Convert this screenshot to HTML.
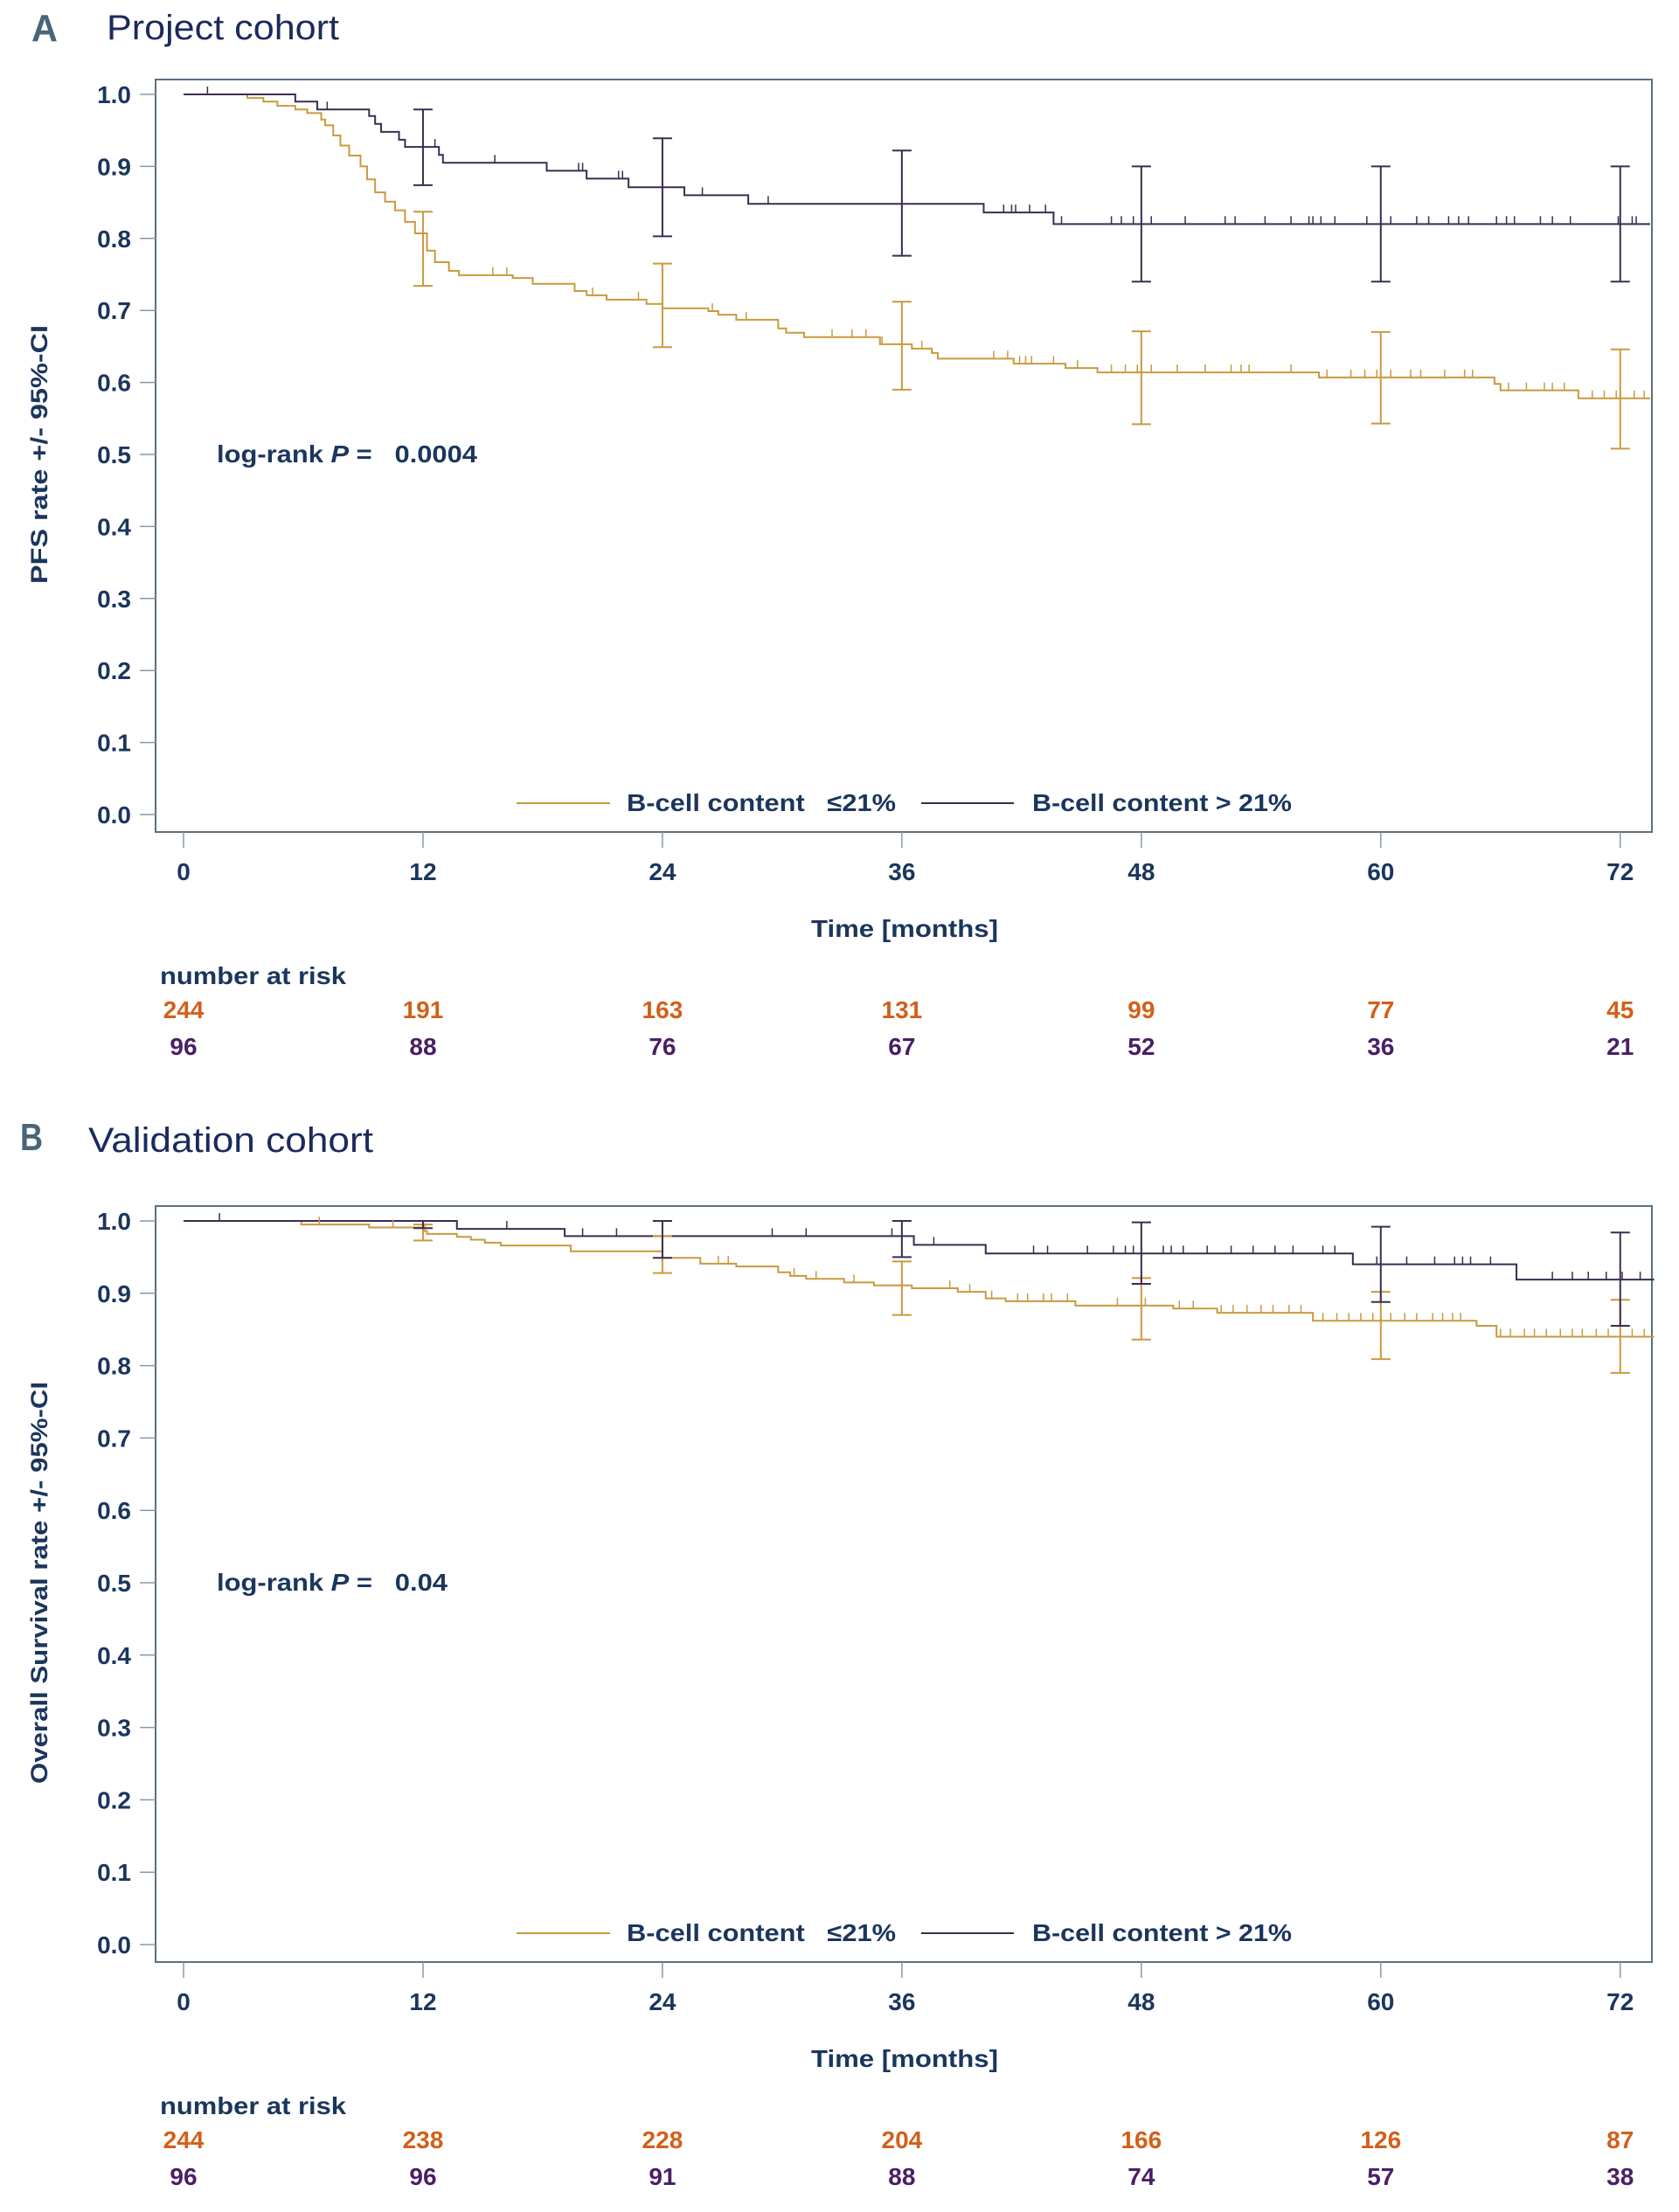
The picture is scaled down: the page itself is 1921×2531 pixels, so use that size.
<!DOCTYPE html>
<html><head><meta charset="utf-8"><style>
html,body{margin:0;padding:0;background:#fff;}
svg{display:block;font-family:"Liberation Sans",sans-serif;}
.t{fill:#1b365d;font-weight:bold;font-size:28px;white-space:pre;}
</style></head><body>
<svg id="chart" width="1921" height="2531" viewBox="0 0 1921 2531" xmlns="http://www.w3.org/2000/svg">
<g>
<text x="36" y="47" font-size="44" font-weight="bold" fill="#4a6478" textLength="30" lengthAdjust="spacingAndGlyphs">A</text>
<text x="122" y="45" font-size="40" fill="#1c2a5c" textLength="266" lengthAdjust="spacingAndGlyphs">Project cohort</text>
</g>
<g>
<text x="23" y="1316" font-size="44" font-weight="bold" fill="#4a6478" textLength="26" lengthAdjust="spacingAndGlyphs">B</text>
<text x="101" y="1318" font-size="40" fill="#1c2a5c" textLength="326" lengthAdjust="spacingAndGlyphs">Validation cohort</text>
</g>
<g id="pa"></g>
<g id="pb"></g>
</svg>
<script>
// ---- shared axis data ----
const xTicks = [0, 12, 24, 36, 48, 60, 72];
const yTicks = [0.0, 0.1, 0.2, 0.3, 0.4, 0.5, 0.6, 0.7, 0.8, 0.9, 1.0];
// ---- Panel A (PFS) ----
const aOrangeT = [0, 3.2, 4.0, 4.7, 5.6, 6.2, 6.9, 7.1, 7.5, 7.86, 8.3, 8.87, 9.2, 9.6, 10.1, 10.6, 11.1, 11.6, 12.2, 12.6, 13.3, 13.8, 16.5, 17.5, 19.6, 20.2, 21.2, 23.2, 24.0, 26.3, 26.8, 27.7, 29.8, 30.2, 31.1, 34.9, 36.5, 37.5, 37.8, 41.6, 44.2, 45.8, 56.9, 65.7, 66.0, 69.9];
const aOrangeS = [1.0, 0.995, 0.990, 0.984, 0.979, 0.974, 0.965, 0.957, 0.943, 0.929, 0.915, 0.900, 0.882, 0.864, 0.851, 0.839, 0.823, 0.807, 0.783, 0.767, 0.755, 0.749, 0.745, 0.737, 0.727, 0.721, 0.715, 0.709, 0.703, 0.699, 0.694, 0.687, 0.675, 0.669, 0.663, 0.653, 0.647, 0.641, 0.633, 0.626, 0.620, 0.614, 0.607, 0.598, 0.589, 0.578];
const aPurpleT = [0, 5.6, 6.7, 9.3, 9.6, 9.9, 10.8, 11.1, 12.8, 13.0, 18.2, 20.2, 22.3, 25.1, 28.3, 40.1, 43.6];
const aPurpleS = [1.0, 0.990, 0.979, 0.970, 0.959, 0.948, 0.937, 0.927, 0.916, 0.905, 0.894, 0.883, 0.871, 0.860, 0.848, 0.836, 0.820];
const aOrangeCIlo = [0.734, 0.649, 0.590, 0.542, 0.543, 0.508];
const aOrangeCIhi = [0.837, 0.765, 0.712, 0.671, 0.670, 0.646];
const aPurpleCIlo = [0.874, 0.803, 0.776, 0.740, 0.740, 0.740];
const aPurpleCIhi = [0.979, 0.939, 0.922, 0.900, 0.900, 0.900];
const aOrangeCens = [15.5, 16.2, 20.5, 22.8, 26.5, 28.2, 32.5, 33.5, 34.2, 35.0, 37.0, 40.6, 41.3, 41.9, 42.2, 42.5, 43.6, 44.8, 46.5, 47.2, 47.8, 48.5, 49.8, 51.2, 52.5, 53.0, 53.4, 55.5, 57.3, 58.5, 59.2, 59.8, 60.5, 61.5, 62.0, 63.2, 64.2, 64.6, 66.4, 67.3, 68.2, 68.6, 69.2, 70.6, 71.2, 71.8, 72.7, 73.2];
const aPurpleCens = [1.2, 7.2, 12.6, 15.6, 19.8, 20.0, 21.8, 22.0, 26.0, 29.3, 41.1, 41.5, 41.7, 42.4, 43.2, 44.0, 46.5, 47.0, 47.6, 48.5, 50.2, 52.2, 52.7, 54.2, 55.5, 56.4, 56.6, 57.0, 57.7, 59.3, 60.5, 61.8, 62.4, 63.4, 63.9, 64.4, 65.8, 66.3, 66.7, 68.0, 68.6, 69.5, 71.9, 72.6, 72.8];
const aRiskOrange = [244, 191, 163, 131, 99, 77, 45];
const aRiskPurple = [96, 88, 76, 67, 52, 36, 21];
// ---- Panel B (OS) ----
const bOrangeT = [0, 5.9, 9.3, 12.0, 12.2, 13.7, 14.4, 15.1, 15.9, 19.4, 24.0, 25.9, 27.7, 29.8, 30.4, 31.2, 33.1, 34.6, 36.5, 38.8, 40.2, 41.2, 44.7, 49.6, 51.8, 56.6, 64.8, 65.8];
const bOrangeS = [1.0, 0.995, 0.991, 0.986, 0.982, 0.978, 0.974, 0.970, 0.966, 0.958, 0.949, 0.941, 0.937, 0.929, 0.924, 0.920, 0.915, 0.911, 0.907, 0.902, 0.893, 0.889, 0.883, 0.879, 0.873, 0.862, 0.855, 0.840];
const bPurpleT = [0, 13.7, 19.1, 36.6, 40.2, 58.6, 66.8];
const bPurpleS = [1.0, 0.989, 0.979, 0.967, 0.955, 0.940, 0.919];
const bOrangeCIlo = [0.973, 0.928, 0.870, 0.836, 0.809, 0.790];
const bOrangeCIhi = [0.995, 0.979, 0.944, 0.921, 0.902, 0.891];
const bPurpleCIlo = [0.990, 0.949, 0.950, 0.913, 0.888, 0.855];
const bPurpleCIhi = [1.0, 1.0, 1.0, 0.998, 0.992, 0.984];
const bOrangeCens = [6.8, 10.5, 12.1, 26.8, 27.3, 30.6, 31.7, 33.6, 36.0, 38.4, 39.4, 40.5, 41.8, 42.3, 43.1, 43.5, 44.3, 46.8, 48.2, 49.9, 50.6, 52.0, 52.6, 53.3, 54.0, 54.6, 55.4, 56.0, 57.1, 57.8, 58.4, 59.0, 59.6, 60.5, 61.2, 61.8, 62.6, 63.1, 63.6, 64.0, 66.0, 66.5, 67.2, 67.7, 68.3, 69.0, 69.6, 70.1, 70.8, 71.4, 72.0, 72.6, 73.2];
const bPurpleCens = [1.8, 16.2, 20.0, 21.7, 29.5, 31.2, 35.5, 37.6, 42.6, 43.3, 45.3, 46.6, 47.2, 47.6, 49.1, 49.5, 50.1, 51.3, 52.5, 53.6, 54.7, 55.6, 57.1, 57.7, 59.8, 61.3, 62.7, 63.7, 64.1, 64.5, 65.5, 68.6, 69.6, 70.4, 71.3, 72.1, 73.0];
const bRiskOrange = [244, 238, 228, 204, 166, 126, 87];
const bRiskPurple = [96, 96, 91, 88, 74, 57, 38];

const NS = 'http://www.w3.org/2000/svg';
const ORANGE = '#c99a3f', PURPLE = '#3b2c52';
const X0 = 210, PXM = 22.83, FL = 178, FR = 1890;
function xs(m){ return X0 + m * PXM; }
function mk(parent, tag, attrs, txt){
  const e = document.createElementNS(NS, tag);
  for (const k in attrs) e.setAttribute(k, attrs[k]);
  if (txt !== undefined) e.textContent = txt;
  parent.appendChild(e); return e;
}
function stepAt(T, S, m){ let v = S[0]; for (let i=0;i<T.length;i++){ if (T[i] <= m) v = S[i]; } return v; }

function panel(gid, y1, y0, P){
  const g = document.getElementById(gid);
  const ys = v => y0 - v * (y0 - y1);
  const top = y1 - 17, bot = y0 + 20;
  const frame = mk(g, 'rect', {x: FL, y: top, width: FR - FL, height: bot - top, fill: 'none', stroke: '#5d6f80', 'stroke-width': 2});
  
  
  yTicks.forEach(v => {
    const l = mk(g, 'line', {x1: 160, x2: FL, y1: ys(v), y2: ys(v), stroke: '#8a98a5', 'stroke-width': 1.5});
    
    
    const t = mk(g, 'text', {x: 150, y: ys(v) + 10, 'text-anchor': 'end', class: 't'}, v.toFixed(1));
    
    
  });
  xTicks.forEach((m, i) => {
    const l = mk(g, 'line', {x1: xs(m), x2: xs(m), y1: bot, y2: bot + 18, stroke: '#8a98a5', 'stroke-width': 1.5});
    
    
    const t = mk(g, 'text', {x: xs(m), y: bot + 55, 'text-anchor': 'middle', class: 't'}, String(m));
    
    
    const r1 = mk(g, 'text', {x: xs(m), y: bot + 213, 'text-anchor': 'middle', class: 't', style: 'fill:#d2601a'}, String(P.riskO[i]));
    
    
    const r2 = mk(g, 'text', {x: xs(m), y: bot + 255, 'text-anchor': 'middle', class: 't', style: 'fill:#4a1f66'}, String(P.riskP[i]));
    
    
  });
  const xt = mk(g, 'text', {x: 1035, y: bot + 120, 'text-anchor': 'middle', class: 't', textLength: 214, lengthAdjust: 'spacingAndGlyphs'}, 'Time [months]');
  
  
  const nr = mk(g, 'text', {x: 183, y: bot + 174, class: 't', textLength: 213, lengthAdjust: 'spacingAndGlyphs'}, 'number at risk');
  
  
  const cy = (y1 + y0) / 2;
  const yt = mk(g, 'text', {x: 0, y: 0, 'text-anchor': 'middle', class: 't', transform: 'translate(54,' + cy + ') rotate(-90)', textLength: P.ytLen, lengthAdjust: 'spacingAndGlyphs', style: 'font-size:27px'}, P.ytitle);
  
  
  const lr = mk(g, 'text', {x: 248, y: ys(0.5) + 9, class: 't', textLength: P.lrLen, lengthAdjust: 'spacingAndGlyphs'});
  
  
  mk(lr, 'tspan', {}, 'log-rank ');
  mk(lr, 'tspan', {'font-style': 'italic'}, 'P');
  mk(lr, 'tspan', {}, ' =   ' + P.p);
  function curve(T, S, color, name){
    let d = 'M' + xs(T[0]) + ',' + ys(S[0]);
    for (let i = 1; i < T.length; i++) d += 'H' + xs(T[i]) + 'V' + ys(S[i]);
    d += 'H' + xs(P.end);
    const p = mk(g, 'path', {d: d, fill: 'none', stroke: color, 'stroke-width': 2});
    
    
  }
  function cens(T, S, C, color, name){
    C.forEach(m => {
      const y = ys(stepAt(T, S, m));
      const l = mk(g, 'line', {x1: xs(m), x2: xs(m), y1: y, y2: y - 9, stroke: color, 'stroke-width': 1.5});
      
      
    });
  }
  function ci(lo, hi, color, name){
    lo.forEach((v, i) => {
      const x = xs(xTicks[i + 1]);
      const p = mk(g, 'path', {d: 'M' + x + ',' + ys(hi[i]) + 'V' + ys(v) + 'M' + (x - 11) + ',' + ys(hi[i]) + 'H' + (x + 11) + 'M' + (x - 11) + ',' + ys(v) + 'H' + (x + 11), fill: 'none', stroke: color, 'stroke-width': 2});
      
      
    });
  }
  curve(P.oT, P.oS, ORANGE, 'curve-bcell-low');
  curve(P.pT, P.pS, PURPLE, 'curve-bcell-high');
  cens(P.oT, P.oS, P.oC, ORANGE, 'censor-mark-low');
  cens(P.pT, P.pS, P.pC, PURPLE, 'censor-mark-high');
  ci(P.oLo, P.oHi, ORANGE, 'ci-bar-low');
  ci(P.pLo, P.pHi, PURPLE, 'ci-bar-high');
  const ly = ys(0) - 13;
  const lg = mk(g, 'g', {});
  
  
  const l1 = mk(lg, 'line', {x1: 591, x2: 698, y1: ly, y2: ly, stroke: ORANGE, 'stroke-width': 2});
  
  
  const t1 = mk(lg, 'text', {x: 717, y: ly + 9, class: 't', textLength: 308, lengthAdjust: 'spacingAndGlyphs'}, 'B-cell content   \u226421%');
  
  
  const l2 = mk(lg, 'line', {x1: 1054, x2: 1160, y1: ly, y2: ly, stroke: PURPLE, 'stroke-width': 2});
  
  
  const t2 = mk(lg, 'text', {x: 1181, y: ly + 9, class: 't', textLength: 297, lengthAdjust: 'spacingAndGlyphs'}, 'B-cell content > 21%');
  
  
}

panel('pa', 108, 932, {oT: aOrangeT, oS: aOrangeS, pT: aPurpleT, pS: aPurpleS, oC: aOrangeCens, pC: aPurpleCens,
  oLo: aOrangeCIlo, oHi: aOrangeCIhi, pLo: aPurpleCIlo, pHi: aPurpleCIhi, riskO: aRiskOrange, riskP: aRiskPurple,
  ytitle: 'PFS rate +/- 95%-CI', ytLen: 296, p: '0.0004', lrLen: 298, end: 73.5});
panel('pb', 1397, 2225, {oT: bOrangeT, oS: bOrangeS, pT: bPurpleT, pS: bPurpleS, oC: bOrangeCens, pC: bPurpleCens,
  oLo: bOrangeCIlo, oHi: bOrangeCIhi, pLo: bPurpleCIlo, pHi: bPurpleCIhi, riskO: bRiskOrange, riskP: bRiskPurple,
  ytitle: 'Overall Survival rate +/- 95%-CI', ytLen: 460, p: '0.04', lrLen: 264, end: 73.7});
</script>
</body></html>
